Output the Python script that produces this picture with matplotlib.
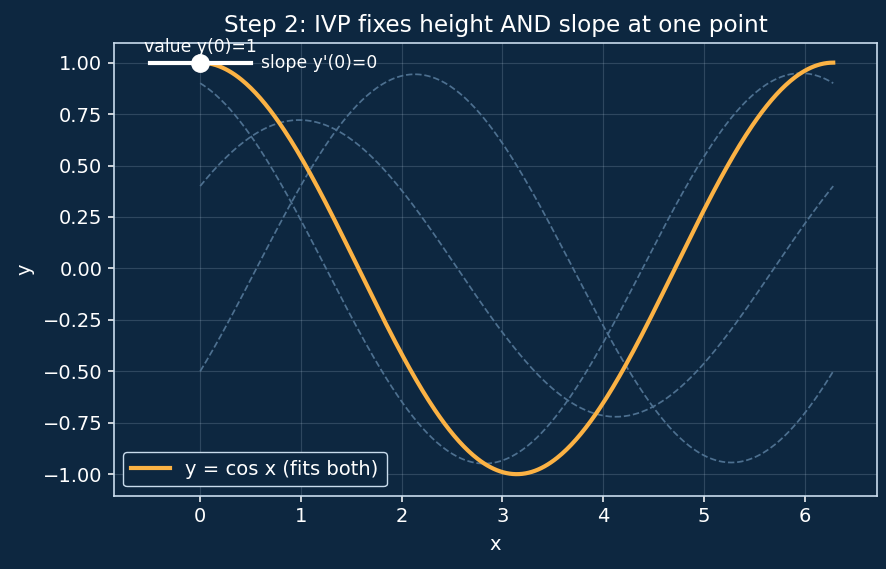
import numpy as np
import matplotlib
matplotlib.use('Agg')
import matplotlib.pyplot as plt

plt.rcParams['font.family'] = ['DejaVu Sans']

# curve family y = A cos x + B sin x, coefficients
ghost_A = [0.9, 0.4, -0.5]
ghost_B = [-0.3, 0.6, 0.8]
main_A = 1.0
main_B = 0.0
x_end = 2 * np.pi

bg = '#0d2740'
fg = '#ffffff'
edge = '#c9dced'

x = np.linspace(0, x_end, 400)

fig, ax = plt.subplots(figsize=(8.87, 5.69), dpi=100)
fig.patch.set_facecolor(bg)
ax.set_facecolor(bg)

for a, b in zip(ghost_A, ghost_B):
    ax.plot(x, a * np.cos(x) + b * np.sin(x), '--', color='#4d7090', lw=1.25)

ax.plot(x, main_A * np.cos(x) + main_B * np.sin(x), color='#fbb244', lw=3.0,
        label='y = cos x (fits both)')

# the point and its tangent
ax.plot([-0.5, 0.5], [1, 1], color='white', lw=3.0)
ax.plot([0], [1], 'o', color='white', ms=12.5)
ax.text(0, 1.03, 'value y(0)=1', color=fg, ha='center', va='bottom', fontsize=12.4)
ax.text(0.6, 1.0, "slope y'(0)=0", color=fg, ha='left', va='center', fontsize=12.4)

ax.set_xlim(-0.86, 6.72)
ax.set_ylim(-1.107, 1.097)
ax.set_title('Step 2: IVP fixes height AND slope at one point', color=fg, fontsize=16.7, pad=7.5)
ax.set_xlabel('x', color=fg, fontsize=14, labelpad=6)
ax.set_ylabel('y', color=fg, fontsize=14, labelpad=6)
ax.tick_params(colors=fg, labelsize=14, length=4.5, width=1.1)
for tick in ax.get_xticklines() + ax.get_yticklines():
    tick.set_color(edge)
for s in ax.spines.values():
    s.set_color(edge)
    s.set_linewidth(1.2)
ax.grid(True, color='#c9dced', alpha=0.18, lw=0.8)

leg = ax.legend(loc='lower left', fontsize=14, facecolor=bg, edgecolor=edge, framealpha=1)
for t in leg.get_texts():
    t.set_color(fg)

fig.subplots_adjust(left=0.128, right=0.989, top=0.925, bottom=0.128)
fig.savefig('out.png', facecolor=bg)
